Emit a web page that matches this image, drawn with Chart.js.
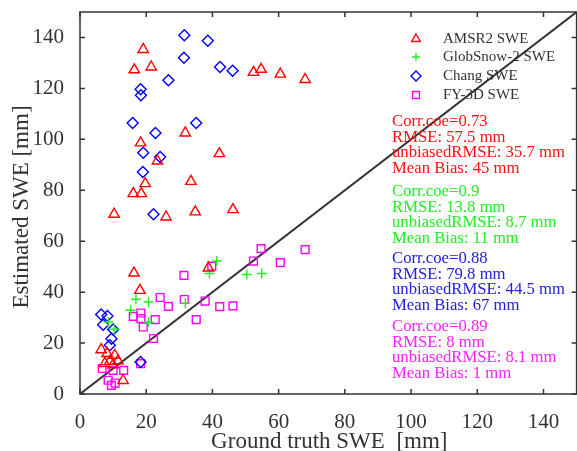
<!DOCTYPE html>
<html>
<head>
<meta charset="utf-8">
<script src="https://cdn.jsdelivr.net/npm/chart.js@4/dist/chart.umd.min.js"></script>
<style>
  html, body { margin: 0; padding: 0; background: #fff; overflow: hidden; }
  #wrap { width: 584px; height: 451px; position: relative; }
</style>
</head>
<body>
<div id="wrap"><canvas id="swe"></canvas></div>
<script>
var xTicks = [0, 20, 40, 60, 80, 100, 120, 140];
var yTicks = [0, 20, 40, 60, 80, 100, 120, 140];

var amsr2 = [[19.1,135.3],[16.4,127.3],[21.5,128.4],[52.4,126.3],[54.7,127.5],[60.5,125.6],[68,123.5],
  [31.8,102.5],[18.3,98.6],[42.1,94.4],[23.4,91.5],[19.7,82.6],[33.5,83.5],[16.1,78.7],[18.5,78.7],
  [10.3,70.6],[26,69.5],[34.8,71.5],[46.2,72.4],[16.3,47.5],[18.1,40.7],[38.8,49.5],[6.4,17.4],
  [8.2,15.9],[10.5,15.2],[9,12.8],[11.5,13],[7.5,12],[10,11.5],[13,5.3]];
var globsnow = [[16.9,37.2],[20.7,36.1],[15.3,32.9],[20.7,28.3],[31.8,35.7],[39.1,47.3],[41.3,52.2],
  [50.4,46.9],[54.9,47.3],[8.5,28.3],[10.3,25.4]];
var chang = [[31.5,140.9],[38.6,138.7],[31.4,132],[42.3,128.4],[46.1,126.9],[26.7,123.2],[18.3,119.7],
  [18.4,117.3],[15.9,106.4],[35.1,106.4],[22.8,102.5],[19.1,94.7],[24.2,93.1],[19,87.2],[22.2,70.6],
  [6.4,31.2],[8.3,30.6],[7,27.2],[10,25.3],[9.5,21.7],[9,19.1],[18.3,12.6]];
var fy3d = [[54.7,57.1],[68,56.7],[60.5,51.6],[52.4,52.2],[39.8,50.2],[31.4,46.6],[24.2,37.9],[26.7,34.4],
  [31.5,37.1],[37.8,36.5],[42.2,34.3],[46.2,34.6],[35.1,29.2],[16.1,30.5],[18.4,31.8],[18.4,29.6],
  [19.1,26.3],[22.7,29.2],[22.2,21.8],[18.3,11.9],[6.7,10],[10,9.3],[13.2,9.3],[8.5,5.4],[9.5,3.4],[10.6,4.3]];
var oneToOne = [[0,0],[150,150]];

var seriesNames = ['AMSR2 SWE', 'GlobSnow-2 SWE', 'Chang SWE', 'FY-3D SWE'];
var seriesColors = ['#ff0000', '#22ee22', '#0000ff', '#ff00ff'];
var textColors = ['#ff1111', '#22ee22', '#2222dd', '#ff22ff'];
var pointStyles = ['triangle', 'cross', 'rectRot', 'rect'];

var stats = [
  ['Corr.coe=0.73', 'RMSE: 57.5 mm', 'unbiasedRMSE: 35.7 mm', 'Mean Bias: 45 mm'],
  ['Corr.coe=0.9', 'RMSE: 13.8 mm', 'unbiasedRMSE: 8.7 mm', 'Mean Bias: 11 mm'],
  ['Corr.coe=0.88', 'RMSE: 79.8 mm', 'unbiasedRMSE: 44.5 mm', 'Mean Bias: 67 mm'],
  ['Corr.coe=0.89', 'RMSE: 8 mm', 'unbiasedRMSE: 8.1 mm', 'Mean Bias: 1 mm']
];

var SERIF = '"Liberation Serif", "DejaVu Serif", serif';
var AXIS = '#333333';

function toXY(arr) {
  return arr.map(function (p) { return { x: p[0], y: p[1] }; });
}

function scatterSet(i, data, radius) {
  return {
    label: seriesNames[i],
    data: toXY(data),
    pointStyle: pointStyles[i],
    pointRadius: radius,
    pointBorderWidth: 1.4,
    borderColor: seriesColors[i],
    backgroundColor: 'rgba(0,0,0,0)',
    showLine: false
  };
}

function drawMarker(ctx, style, x, y, r, color) {
  ctx.save();
  ctx.strokeStyle = color;
  ctx.lineWidth = 1.4;
  ctx.beginPath();
  if (style === 'triangle') {
    ctx.moveTo(x, y - r);
    ctx.lineTo(x + r * 0.87, y + r * 0.5);
    ctx.lineTo(x - r * 0.87, y + r * 0.5);
    ctx.closePath();
  } else if (style === 'cross') {
    ctx.moveTo(x - r, y); ctx.lineTo(x + r, y);
    ctx.moveTo(x, y - r); ctx.lineTo(x, y + r);
  } else if (style === 'rectRot') {
    ctx.moveTo(x, y - r); ctx.lineTo(x + r, y); ctx.lineTo(x, y + r); ctx.lineTo(x - r, y);
    ctx.closePath();
  } else {
    ctx.rect(x - r * 0.7, y - r * 0.7, r * 1.4, r * 1.4);
  }
  ctx.stroke();
  ctx.restore();
}

var framePlugin = {
  id: 'frame',
  afterDraw: function (chart) {
    var ctx = chart.ctx;
    var a = chart.chartArea;
    var xs = chart.scales.x, ys = chart.scales.y;
    ctx.save();
    ctx.strokeStyle = AXIS;
    ctx.lineWidth = 1.5;
    ctx.strokeRect(a.left, a.top, a.right - a.left, a.bottom - a.top);
    ctx.beginPath();
    xTicks.forEach(function (v) {
      var px = xs.getPixelForValue(v);
      ctx.moveTo(px, a.bottom); ctx.lineTo(px, a.bottom - 5);
      ctx.moveTo(px, a.top); ctx.lineTo(px, a.top + 5);
    });
    yTicks.forEach(function (v) {
      var py = ys.getPixelForValue(v);
      ctx.moveTo(a.left, py); ctx.lineTo(a.left + 5, py);
      ctx.moveTo(a.right, py); ctx.lineTo(a.right - 5, py);
    });
    ctx.stroke();

    // axis titles
    ctx.fillStyle = AXIS;
    ctx.font = '23px ' + SERIF;
    ctx.textAlign = 'center';
    ctx.textBaseline = 'middle';
    ctx.fillText('Ground truth SWE  [mm]', (a.left + a.right) / 2 + 1, 442);
    ctx.save();
    ctx.translate(22, 207);
    ctx.rotate(-Math.PI / 2);
    ctx.fillText('Estimated SWE [mm]', 0, 0);
    ctx.restore();

    // legend
    ctx.textAlign = 'left';
    ctx.font = '15px ' + SERIF;
    var ly = [39, 57, 76, 95];
    for (var i = 0; i < 4; i++) {
      drawMarker(ctx, pointStyles[i], 416, ly[i], i === 1 ? 4 : 5, seriesColors[i]);
      ctx.fillStyle = AXIS;
      ctx.fillText(seriesNames[i], 443, ly[i]);
    }

    // statistics
    ctx.font = '16.7px ' + SERIF;
    var blockTop = [122, 192, 259, 327];
    for (var b = 0; b < 4; b++) {
      ctx.fillStyle = textColors[b];
      for (var k = 0; k < 4; k++) {
        ctx.fillText(stats[b][k], 392, blockTop[b] + k * 15.4);
      }
    }
    ctx.restore();
  }
};

new Chart(document.getElementById('swe').getContext('2d'), {
  type: 'scatter',
  data: {
    datasets: [
      {
        type: 'line',
        label: '1:1',
        data: toXY(oneToOne),
        borderColor: '#333333',
        borderWidth: 2,
        pointRadius: 0,
        fill: false,
        order: 5
      },
      scatterSet(0, amsr2, 6),
      scatterSet(1, globsnow, 5),
      scatterSet(2, chang, 5.5),
      scatterSet(3, fy3d, 5.5)
    ]
  },
  options: {
    responsive: true,
    maintainAspectRatio: false,
    animation: false,
    layout: { padding: { top: 12, right: 1, left: 0, bottom: 0 } },
    plugins: {
      legend: { display: false },
      tooltip: { enabled: false }
    },
    scales: {
      x: {
        type: 'linear',
        min: 0,
        max: 150,
        afterBuildTicks: function (s) { s.ticks = xTicks.map(function (v) { return { value: v }; }); },
        afterFit: function (s) { s.height = 57; s.paddingLeft = 0; s.paddingRight = 0; },
        grid: { display: false },
        border: { display: false },
        ticks: { color: AXIS, padding: 8, font: { family: SERIF, size: 21 }, maxRotation: 0 }
      },
      y: {
        type: 'linear',
        min: 0,
        max: 150,
        afterBuildTicks: function (s) { s.ticks = yTicks.map(function (v) { return { value: v }; }); },
        afterFit: function (s) { s.width = 80; s.paddingTop = 0; s.paddingBottom = 0; },
        grid: { display: false },
        border: { display: false },
        ticks: { color: AXIS, padding: 8, font: { family: SERIF, size: 21 } }
      }
    }
  },
  plugins: [framePlugin]
});
</script>
</body>
</html>
